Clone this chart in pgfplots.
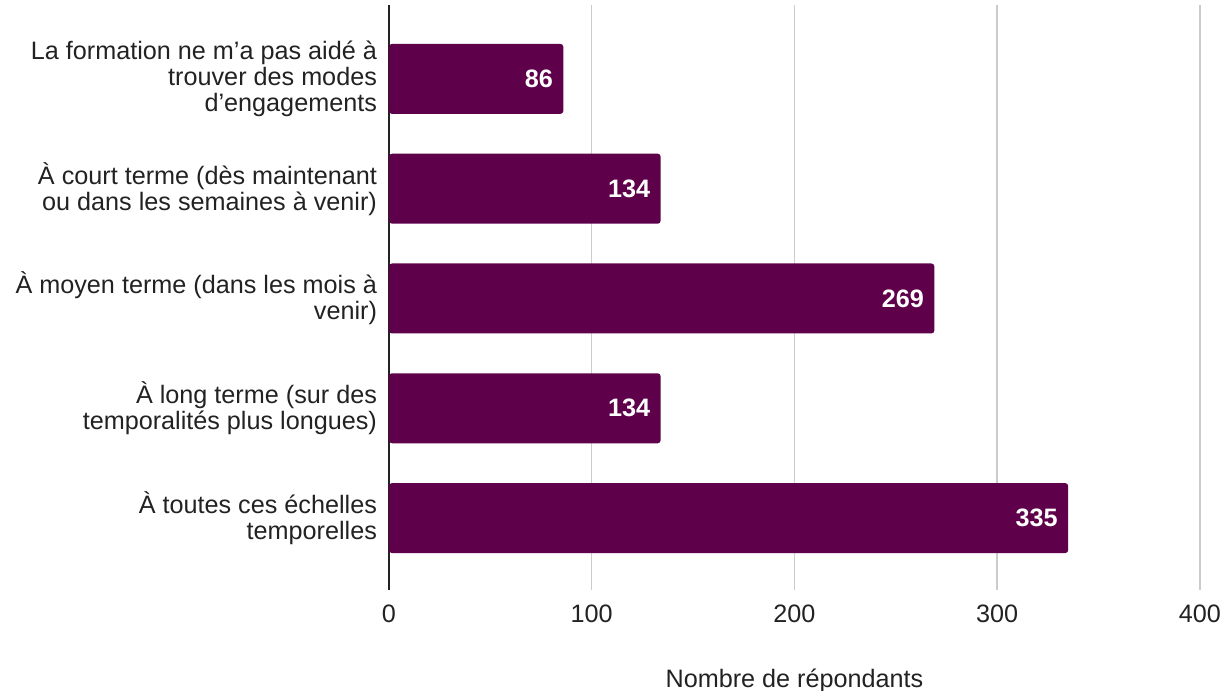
\documentclass[border=0pt]{standalone}
\usepackage{fontspec}
\setmainfont{Liberation Sans}
\usepackage{pgfplots}
\pgfplotsset{compat=1.18}
\definecolor{barpurple}{HTML}{5E004A}
\definecolor{gridgray}{HTML}{CCCCCC}
\definecolor{txt}{HTML}{222222}
\begin{document}
\begin{tikzpicture}
\begin{axis}[
    at={(0,0)}, anchor=south west,
    scale only axis,
    width=405.5pt, height=292.5pt,
    xbar,
    bar width=35pt,
    xmin=0, xmax=400,
    ymin=0.327, ymax=5.655,
    y dir=reverse,
    xtick={0,100,200,300,400},
    ytick={1,2,3,4,5},
    yticklabels={
        {La formation ne m’a pas aidé à\\trouver des modes\\d’engagements},
        {À court terme (dès maintenant\\ou dans les semaines à venir)},
        {À moyen terme (dans les mois à\\venir)},
        {À long terme (sur des\\temporalités plus longues)},
        {À toutes ces échelles\\temporelles}},
    yticklabel style={align=right, font=\fontsize{12.6}{13}\selectfont, text=txt, xshift=-2.5pt},
    xticklabel style={font=\fontsize{12.6}{14}\selectfont, text=txt, yshift=-4pt},
    /pgf/number format/assume math mode=true,
    major tick length=0pt,
    axis line style={draw=none},
    xmajorgrids=true,
    grid style={gridgray, line width=0.75pt},
    extra x ticks={0},
    extra x tick labels={},
    extra x tick style={grid style={txt, line width=1pt}},
    xlabel={Nombre de répondants},
    xlabel style={font=\fontsize{12.6}{14}\selectfont, text=txt, yshift=-16pt},
    nodes near coords,
    nodes near coords style={anchor=east, xshift=-1.7pt, text=white, font=\fontsize{12.6}{14}\selectfont\bfseries},
    every node near coord/.append style={/pgf/number format/assume math mode=true},
]
\addplot[fill=barpurple, draw=none, rounded corners=1.5pt] coordinates {
    (86,1)
    (134,2)
    (269,3)
    (134,4)
    (335,5)
};
\end{axis}
\pgfresetboundingbox
\useasboundingbox (-194.5pt,-50.5pt) rectangle (419pt,295pt);
\end{tikzpicture}
\end{document}
